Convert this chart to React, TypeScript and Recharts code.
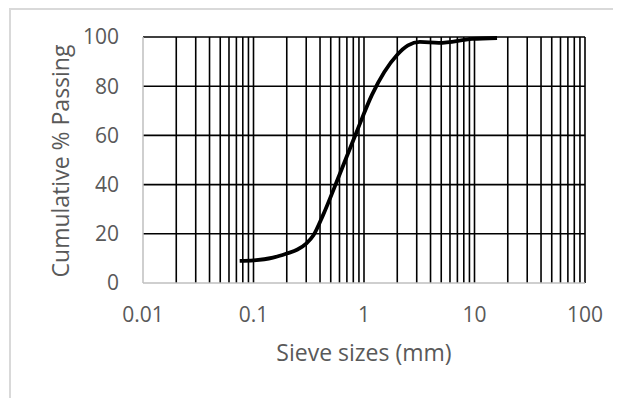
import React from 'react';
import { LineChart, Line, XAxis, YAxis, ReferenceLine, Label } from 'recharts';

const sieveSizes = [0.075, 0.1, 0.15, 0.2, 0.25, 0.3, 0.35, 0.425, 0.6, 0.85, 1.18, 2.0, 2.5, 3.2, 4.75, 9.5, 16];
const percentPassing = [9, 9.2, 10.3, 12, 13.6, 16, 19.5, 27.5, 44, 61, 76.5, 92.8, 96.6, 98, 97.6, 99.2, 99.6];
const xTicks = [0.01, 0.1, 1, 10, 100];
const yTicks = [0, 20, 40, 60, 80, 100];
const xGridLines = [
  0.02, 0.03, 0.04, 0.05, 0.06, 0.07, 0.08, 0.09,
  0.1, 0.2, 0.3, 0.4, 0.5, 0.6, 0.7, 0.8, 0.9,
  1, 2, 3, 4, 5, 6, 7, 8, 9,
  10, 20, 30, 40, 50, 60, 70, 80, 90, 100,
];
const yGridLines = [20, 40, 60, 80, 100];

const data = sieveSizes.map((s, i) => ({ size: s, pass: percentPassing[i] }));

const FONT = "'Open Sans', sans-serif";
const TEXT = '#595959';

export default function App() {
  return (
    <div style={{ position: 'relative', width: 613, height: 390, overflow: 'hidden', background: '#fff' }}>
      <div
        style={{
          position: 'absolute',
          left: 1,
          top: 0,
          width: 700,
          height: 500,
          borderLeft: '2px solid #d9d9d9',
          borderTop: '2px solid #d9d9d9',
        }}
      />
      <LineChart
        width={613}
        height={390}
        data={data}
        margin={{ top: 29, right: 36, bottom: 30, left: 0 }}
        style={{ position: 'absolute', left: 0, top: 0 }}
      >
        <XAxis
          dataKey="size"
          type="number"
          scale="log"
          domain={[0.01, 100]}
          ticks={xTicks}
          allowDataOverflow
          height={85}
          tickSize={0}
          tickMargin={24}
          axisLine={{ stroke: '#bfbfbf', strokeWidth: 1.5 }}
          tickLine={false}
          tick={{ fill: TEXT, fontSize: 21, fontFamily: FONT }}
        >
          <Label
            content={(props: any) => {
              const vb = props.viewBox || { x: 135, y: 275, width: 442, height: 85 };
              return (
                <text
                  x={vb.x + vb.width / 2}
                  y={vb.y + 78}
                  textAnchor="middle"
                  fill={TEXT}
                  fontSize={23}
                  fontFamily={FONT}
                >
                  Sieve sizes (mm)
                </text>
              );
            }}
          />
        </XAxis>
        <YAxis
          type="number"
          domain={[0, 100]}
          ticks={yTicks}
          width={135}
          tickSize={0}
          tickMargin={24}
          axisLine={{ stroke: '#bfbfbf', strokeWidth: 1.5 }}
          tickLine={false}
          tick={{ fill: TEXT, fontSize: 21, fontFamily: FONT }}
        >
          <Label
            content={(props: any) => {
              const vb = props.viewBox || { x: 0, y: 29, width: 135, height: 246 };
              const cx = vb.x + 61;
              const cy = vb.y + vb.height / 2 + 1;
              return (
                <text
                  x={cx}
                  y={cy}
                  transform={`rotate(-90, ${cx}, ${cy})`}
                  textAnchor="middle"
                  fill={TEXT}
                  fontSize={23}
                  fontFamily={FONT}
                >
                  Cumulative % Passing
                </text>
              );
            }}
          />
        </YAxis>
        {yGridLines.map((v) => (
          <ReferenceLine key={'y' + v} y={v} stroke="#000" strokeWidth={1.6} />
        ))}
        {xGridLines.map((v) => (
          <ReferenceLine key={'x' + v} x={v} stroke="#000" strokeWidth={1.6} />
        ))}
        <Line
          type="monotone"
          dataKey="pass"
          stroke="#000"
          strokeWidth={3.8}
          dot={false}
          activeDot={false}
          isAnimationActive={false}
        />
      </LineChart>
    </div>
  );
}
